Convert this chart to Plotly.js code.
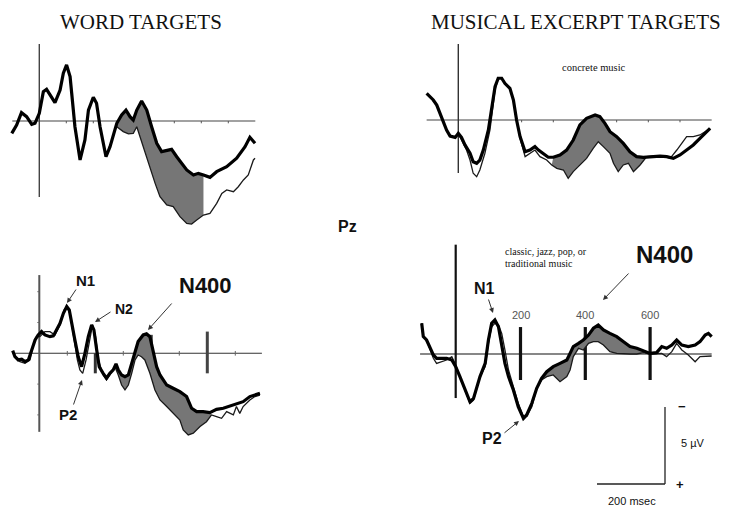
<!DOCTYPE html>
<html>
<head>
<meta charset="utf-8">
<script src="https://cdn.plot.ly/plotly-3.0.1.min.js"></script>
<style>html,body{margin:0;padding:0;background:#fff;}#chart{width:729px;height:508px;}</style>
</head>
<body>
<div id="chart"></div>
<script>
// ---------------- DATA (time in ms, amplitude in µV; negative plotted up) ----------------
// Panel 1: word targets, upper
const wordTopThickT = [-102,-84,-66,-47,-28,-16,0,15,27,46,58,77,89,101,114,120,132,151,169,182,200,212,225,247,262,287,305,321,336,348,361,379,398,416,435,453,490,509,546,571,589,608,632,657,694,731,762,780,799];
const wordTopThickV = [0.80,0.26,-0.54,-0.28,0.22,0.15,-0.50,-1.90,-2.06,-1.58,-1.19,-2.01,-3.10,-3.64,-2.88,-1.80,0.37,2.53,1.23,-0.71,-1.54,-1.15,0.37,2.32,1.67,0.15,-0.39,-0.71,-0.28,-0.06,-0.71,-1.30,-0.71,0.37,1.45,1.99,1.84,2.32,3.18,3.51,3.40,3.51,3.66,3.29,2.97,2.42,1.67,1.06,1.45];
const wordTopThinT = [287,311,330,348,361,373,391,410,429,447,472,496,521,546,564,583,608,632,657,676,694,719,737,756,774,793,799];
const wordTopThinV = [0.37,0.69,0.84,0.80,0.37,1.02,2.10,3.12,4.05,4.91,5.45,5.56,6.21,6.65,6.69,6.43,6.11,6.00,5.35,4.70,4.48,4.59,4.27,3.83,3.50,2.53,2.42];
const wordTopShade = [285, 610];

// Panel 2: musical excerpt targets, upper (concrete music)
const musTopThickT = [-100,-89,-79,-68,-58,-47,-37,-26,-10,0,10,21,37,47,58,68,79,95,105,116,126,137,147,163,174,184,195,211,226,242,253,268,284,300,321,342,363,384,405,432,447,463,479,500,521,542,563,584,606,637,658,679,700,721,742,763,779,795];
const musTopThickV = [-1.73,-1.52,-1.30,-0.97,-0.43,0.22,0.65,1.04,1.13,0.87,1.13,1.62,2.16,2.71,2.81,2.60,1.95,0.65,-0.65,-2.16,-2.71,-2.71,-2.38,-2.06,-1.30,0,1.08,2.06,1.95,1.73,1.95,2.16,2.42,2.42,2.27,1.95,1.30,0.32,-0.11,-0.32,-0.22,0.22,0.76,1.08,1.52,2.06,2.38,2.42,2.38,2.34,2.38,2.49,2.27,1.95,1.62,1.19,0.87,0.54];
const musTopThinT = [0,10,26,37,47,58,68,84,100,116,126,137,147,163,174,184,195,211,226,242,258,279,295,311,332,347,363,384,405,426,442,458,479,490,505,521,537,553,574,595,616,648,669,690,705,721,742,763,779,795];
const musTopThinV = [0.87,1.30,1.95,2.60,3.46,3.68,3.25,2.16,0.65,-1.95,-2.71,-2.71,-2.38,-2.06,-1.30,0,1.19,2.38,2.16,1.95,2.38,2.60,2.92,3.14,3.25,3.79,3.35,2.92,2.49,1.84,1.41,1.73,2.16,2.81,3.35,2.92,2.81,3.35,2.92,2.38,2.34,2.34,2.49,1.95,1.52,1.08,1.08,0.97,0.76,0.54];
const musTopShade = [295, 606];

// Panel 3: word targets, lower
const wordBotThickT = [-95,-87,-75,-63,-51,-39,-27,-15,-4,8,20,38,50,62,74,86,98,107,115,127,139,151,163,175,187,195,205,214,228,240,252,264,274,282,294,306,318,330,342,353,371,383,395,407,419,431,443,455,478,502,526,544,562,585,609,633,657,681,704,728,752,770,788];
const wordBotThickV = [-0.17,0.22,0.43,0.39,0.54,0.43,-0.22,-0.87,-1.19,-1.41,-1.19,-1.08,-1.13,-1.52,-1.95,-2.60,-3.03,-2.81,-1.95,-0.87,0.22,0.87,0,-1.08,-1.84,-1.52,-0.22,0.87,1.30,1.62,1.30,1.08,0.69,1.08,1.41,1.52,1.41,0.65,-0.22,-0.76,-1.19,-1.26,-1.08,-0.11,0.87,1.41,1.73,2.06,2.27,2.49,2.81,3.57,3.79,3.79,3.85,3.64,3.57,3.42,3.25,3.14,2.81,2.71,2.60];
const wordBotThinT = [-95,-81,-69,-51,-33,-21,-10,2,20,38,56,74,88,98,109,121,136,145,155,167,179,190,201,211,228,240,252,270,282,294,306,318,330,342,353,365,377,395,413,431,455,478,502,514,532,550,574,597,615,633,651,669,693,704,716,728,752,770,788];
const wordBotThinV = [-0.11,0.32,0.54,0.65,0.43,-0.54,-1.08,-1.08,-1.41,-1.41,-1.19,-1.84,-2.81,-3.03,-2.60,-1.30,0.43,1.08,1.30,0.43,-0.87,-1.84,-1.08,0.43,1.41,1.73,1.41,0.87,1.41,2.06,2.38,2.06,1.30,0.43,0.11,0.22,0.43,1.30,2.38,3.03,3.46,3.90,4.33,4.98,5.30,5.19,4.76,4.44,4.00,4.11,4.22,3.79,4.00,3.46,3.90,3.46,3.03,2.81,2.71];
const wordBotShade = [250, 620];

// Panel 4: musical excerpt targets, lower (classic, jazz, pop, or traditional music)
const musBotThickT = [-105,-100,-90,-79,-69,-59,-43,-28,-12,0,13,29,44,55,65,75,91,101,111,121,132,142,152,163,178,193,209,219,235,250,265,281,301,322,343,353,363,379,394,410,425,440,456,476,497,518,538,559,579,600,620,636,651,667,682,698,718,739,754,770,780,790];
const musBotThickV = [-2.00,-1.13,-0.91,-0.37,0.06,0.28,0.28,0.28,0.39,0.82,1.47,2.34,3.10,2.88,2.12,1.47,0.61,-0.91,-1.99,-2.21,-1.77,-0.69,0.61,1.47,2.34,3.42,4.18,3.96,3.20,2.23,1.58,1.15,0.82,0.61,0.39,-0.04,-0.48,-0.69,-0.91,-1.23,-1.67,-1.88,-1.56,-1.34,-1.13,-0.80,-0.48,-0.37,-0.22,-0.04,-0.09,-0.48,-0.37,-0.58,-0.91,-0.58,-0.48,-0.58,-0.80,-1.23,-1.34,-1.13];
const musBotThinT = [-105,-100,-90,-79,-69,-59,-43,-28,-12,0,13,29,44,55,65,75,91,101,111,121,132,142,152,163,178,193,209,219,235,250,265,281,301,322,343,353,363,379,394,410,425,440,456,476,497,518,538,559,579,600,620,636,651,667,682,698,718,739,754,770,790];
const musBotThinV = [-2.00,-1.13,-0.91,-0.26,0.28,0.61,0.50,0.39,0.17,0.71,1.47,2.34,3.20,2.99,2.23,1.47,0.82,-0.69,-1.77,-1.99,-1.88,-1.34,-0.26,1.04,2.12,3.20,4.05,4.05,3.42,2.23,1.69,1.47,1.36,1.80,1.47,1.04,0.17,-0.37,-0.26,-0.69,-0.80,-0.80,-0.58,-0.15,-0.04,0,0,0,-0.09,0,0,-0.04,0.17,-0.15,-0.69,-0.26,0.06,0.50,0.17,0.17,0.13];
const musBotShade = [260, 580];

const markerTimes = [200, 400, 600];
const markerLabels = ['200', '400', '600'];

// ---------------- LAYOUT HELPERS ----------------
const W = 729, H = 508;
const layout = {
  width: W, height: H, margin: {l: 0, r: 0, t: 0, b: 0},
  paper_bgcolor: '#fff', plot_bgcolor: 'rgba(0,0,0,0)',
  showlegend: false, shapes: [], annotations: []
};
function panel(id, box, onset, base, pxms, pxuv) {
  const xa = 'xaxis' + id, ya = 'yaxis' + id;
  layout[xa] = {domain: [box[0] / W, box[1] / W], range: [(box[0] - onset) / pxms, (box[1] - onset) / pxms],
    visible: false, fixedrange: true, anchor: 'y' + id};
  layout[ya] = {domain: [1 - box[3] / H, 1 - box[2] / H], range: [(box[3] - base) / pxuv, (box[2] - base) / pxuv],
    visible: false, fixedrange: true, anchor: 'x' + id};
}
const PXUV = 15.4;
panel('', [5, 265, 38, 240], 39.3, 121, 0.27, PXUV);
panel('2', [415, 720, 38, 200], 458.3, 120, 0.3167, PXUV);
panel('3', [5, 270, 265, 445], 39.3, 353.3, 0.28, PXUV);
panel('4', [410, 720, 235, 440], 455.7, 354, 0.324, PXUV);

const traces = [];
function win(t, v, w) {
  const tt = [], vv = [];
  t.forEach((x, i) => { if (x >= w[0] && x <= w[1]) { tt.push(x); vv.push(v[i]); } });
  return [tt, vv];
}
function addPanel(id, thickT, thickV, thinT, thinV, shade) {
  const xr = 'x' + id, yr = 'y' + id;
  const a = win(thickT, thickV, shade), b = win(thinT, thinV, shade);
  traces.push({x: a[0], y: a[1], xaxis: xr, yaxis: yr, mode: 'lines', line: {width: 0, color: 'rgba(0,0,0,0)'}, hoverinfo: 'skip'});
  traces.push({x: b[0], y: b[1], xaxis: xr, yaxis: yr, mode: 'lines', line: {width: 0, color: 'rgba(0,0,0,0)'},
    fill: 'tonexty', fillcolor: 'rgb(118,118,118)', hoverinfo: 'skip'});
  traces.push({x: thinT, y: thinV, xaxis: xr, yaxis: yr, mode: 'lines', line: {width: 1.3, color: '#1a1a1a'}, hoverinfo: 'skip'});
  traces.push({x: thickT, y: thickV, xaxis: xr, yaxis: yr, mode: 'lines', line: {width: 3.2, color: '#000'}, hoverinfo: 'skip'});
}
addPanel('', wordTopThickT, wordTopThickV, wordTopThinT, wordTopThinV, wordTopShade);
addPanel('2', musTopThickT, musTopThickV, musTopThinT, musTopThinV, musTopShade);
addPanel('3', wordBotThickT, wordBotThickV, wordBotThinT, wordBotThinV, wordBotShade);
addPanel('4', musBotThickT, musBotThickV, musBotThinT, musBotThinV, musBotShade);

// axis lines (baseline and stimulus onset) drawn in each panel's data units
function seg(id, x0, y0, x1, y1, w, c) {
  layout.shapes.push({type: 'line', xref: 'x' + id, yref: 'y' + id, x0: x0, y0: y0, x1: x1, y1: y1,
    line: {width: w, color: c}, layer: 'below'});
}
// panel 1
seg('', -100, 0, 800, 0, 1.1, '#444');
seg('', 0, -5.0, 0, 4.94, 1.4, '#444');
[100,200,300,400,500,600,700].forEach(t => seg('', t, 0, t, 0.15, 1, '#555'));
// panel 2
seg('2', -100, 0, 800, 0, 1.1, '#444');
seg('2', 0, -4.94, 0, 3.44, 1.4, '#333');
[100,200,300,400,500,600,700].forEach(t => seg('2', t, 0, t, 0.15, 1, '#555'));
// panel 3
seg('3', -95, 0, 795, 0, 1.1, '#333');
seg('3', 0, -5.08, 0, 5.1, 2, '#555');
[-4,-2,2,4].forEach(v => seg('3', -7, v, 0, v, 1, '#666'));
[100,300,500,700].forEach(t => seg('3', t, -0.15, t, 0.15, 1, '#666'));
seg('3', 200, 0, 200, 1.3, 3, '#333');
seg('3', 400, -1.2, 400, 0.2, 3, '#444');
seg('3', 600, -1.41, 600, 1.3, 3, '#444');
// panel 4
seg('4', -110, 0, 790, 0, 1.2, '#111');
seg('4', 0, -7.1, 0, 2.86, 2.2, '#111');
markerTimes.forEach((t, i) => {
  seg('4', t, -1.75, t, 1.69, 3.2, '#111');
  layout.annotations.push({xref: 'x4', yref: 'y4', x: t, y: -2.55, text: markerLabels[i], showarrow: false,
    font: {family: 'Liberation Sans, Arial, sans-serif', size: 11, color: '#555'}});
});

// paper-pixel helpers
const px = x => x / W, py = y => 1 - y / H;
function txt(x, y, s, size, fam, opts) {
  layout.annotations.push(Object.assign({xref: 'paper', yref: 'paper', x: px(x), y: py(y), text: s, showarrow: false,
    font: {family: fam, size: size, color: '#111'}, xanchor: 'center', yanchor: 'middle'}, opts || {}));
}
function arrow(hx, hy, tx, ty) {
  layout.annotations.push({xref: 'paper', yref: 'paper', x: px(hx), y: py(hy), ax: tx - hx, ay: ty - hy,
    text: '', showarrow: true, arrowhead: 2, arrowsize: 1, arrowwidth: 1, arrowcolor: '#333'});
}
const SERIF = 'Liberation Serif, Times New Roman, serif';
const SANS = 'Liberation Sans, Arial, sans-serif';
txt(141, 22, 'WORD TARGETS', 21, SERIF);
txt(576, 22, 'MUSICAL EXCERPT TARGETS', 21, SERIF);
txt(594, 67, 'concrete music', 10.5, SERIF);
txt(503, 251, 'classic, jazz, pop, or', 10, SERIF, {xanchor: 'left'});
txt(503, 263, 'traditional music', 10, SERIF, {xanchor: 'left'});
txt(347, 226, '<b>Pz</b>', 16, SANS);
// labels panel 3
txt(85, 280, '<b>N1</b>', 15, SANS);
txt(124, 309, '<b>N2</b>', 14, SANS);
txt(68, 414, '<b>P2</b>', 15, SANS);
txt(205, 285, '<b>N400</b>', 22, SANS);
arrow(67, 303, 77, 288);
arrow(95, 322, 112, 311);
arrow(82, 380, 73, 406);
arrow(148, 330, 173, 302);
// labels panel 4
txt(484, 288, '<b>N1</b>', 16, SANS);
txt(492, 438, '<b>P2</b>', 16, SANS);
txt(664, 254, '<b>N400</b>', 24, SANS);
arrow(493, 313, 488, 298);
arrow(519, 421, 503, 434);
arrow(603, 300, 630, 272);

// scale bar
function pline(x0, y0, x1, y1, w) {
  layout.shapes.push({type: 'line', xref: 'paper', yref: 'paper', x0: px(x0), y0: py(y0), x1: px(x1), y1: py(y1),
    line: {width: w, color: '#222'}});
}
pline(665, 407, 665, 484, 1.3);
pline(597, 484, 665, 484, 1.3);
txt(682, 406, '<b>−</b>', 13, SANS);
txt(680, 484, '<b>+</b>', 13, SANS);
txt(693, 443, '5 µV', 11, SANS);
txt(632, 501, '200 msec', 11, SANS);

Plotly.newPlot('chart', traces, layout, {staticPlot: true, displayModeBar: false});
</script>
</body>
</html>
